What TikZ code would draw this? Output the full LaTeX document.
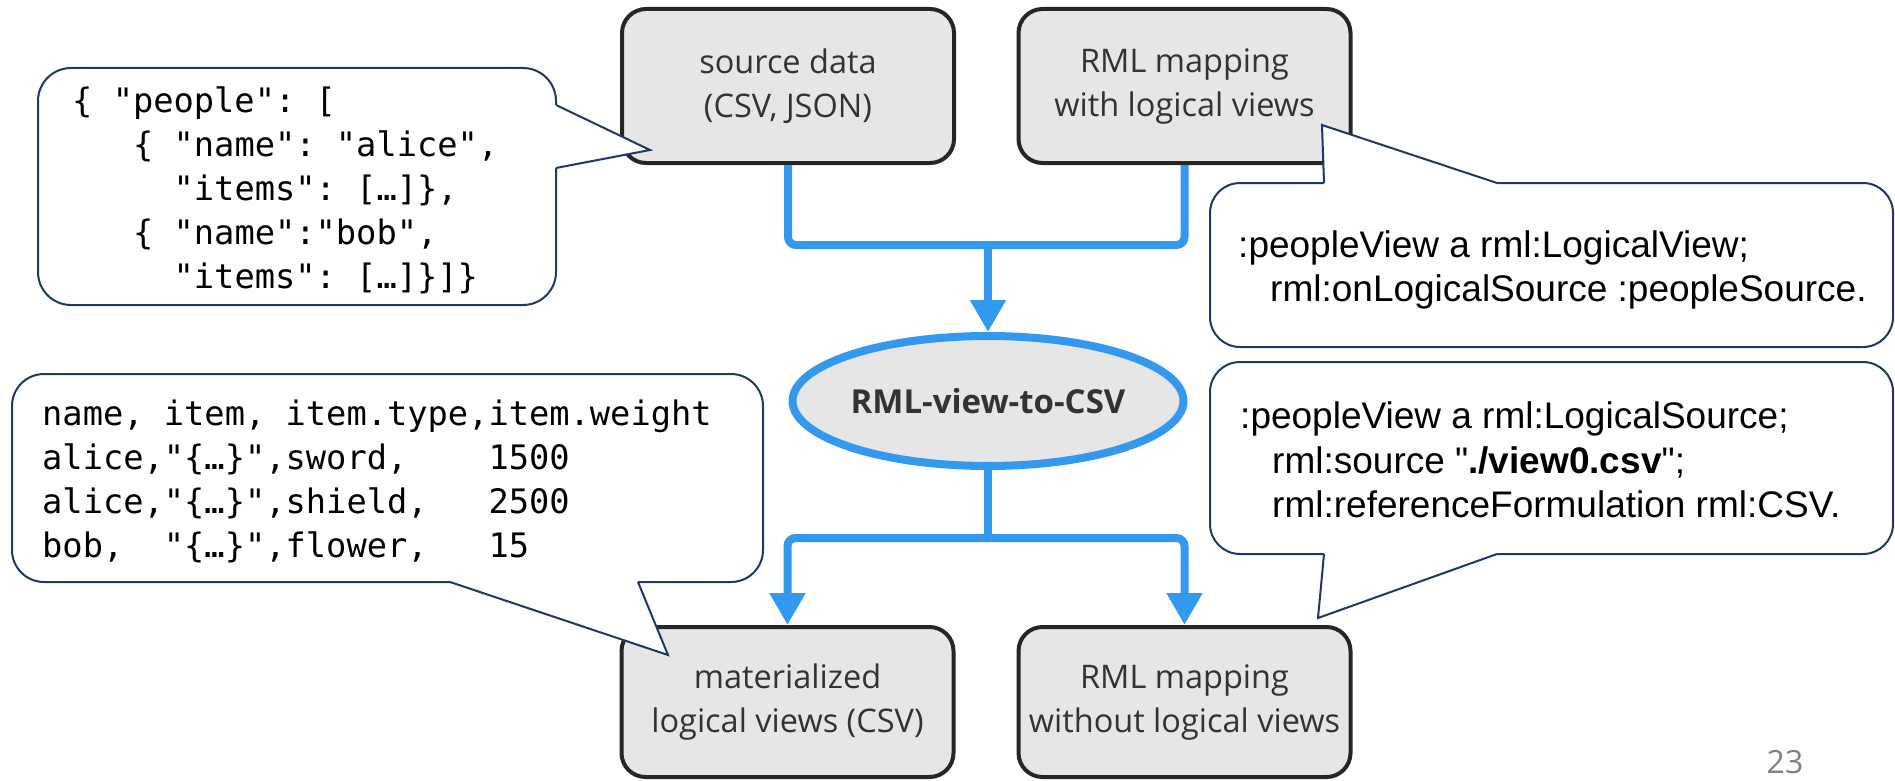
\documentclass[tikz,border=0pt]{standalone}
\usepackage{fontspec}
\usetikzlibrary{arrows.meta,shapes.geometric}
\newfontfamily\boxfont{Open Sans}
\newfontfamily\codefont[Ligatures=TeXOff]{DejaVu Sans Mono}
\newfontfamily\rdffont[Ligatures=TeXOff]{Liberation Sans}
\definecolor{flowblue}{HTML}{3399EE}
\definecolor{boxgray}{HTML}{E6E6E6}
\definecolor{boxedge}{HTML}{262626}
\definecolor{calledge}{HTML}{1F3864}
\definecolor{boxtext}{HTML}{333333}
\definecolor{pagegray}{HTML}{808080}
\begin{document}
\begin{tikzpicture}[x=1pt,y=-1pt,
  procbox/.style={draw=boxedge, line width=4pt, fill=boxgray, rounded corners=24pt,
    minimum width=332pt, minimum height=154pt, inner sep=0pt, align=center,
    text=boxtext, font=\boxfont\fontsize{32.5}{44}\selectfont},
  procell/.style={ellipse, draw=flowblue, line width=8pt, fill=boxgray,
    minimum width=391pt, minimum height=130pt, inner sep=0pt,
    text=boxtext, font=\boxfont\bfseries\fontsize{33}{40}\selectfont},
  flow/.style={draw=flowblue, line width=8pt, rounded corners=8pt},
  flowtip/.style={-{Triangle[width=34pt,length=32pt]}},
  callbox/.style={draw=calledge, line width=2pt, fill=white},
  cline/.style={draw=calledge, line width=2pt, line join=miter},
  codetext/.style={inner sep=0pt, align=left,
    font=\codefont\frenchspacing\fontsize{33.7}{44}\selectfont},
  rdftext/.style={inner sep=0pt, align=left,
    font=\rdffont\frenchspacing\fontsize{37}{44.5}\selectfont}]
\useasboundingbox (0,0) rectangle (1895,781);

% process boxes
\node[procbox] (src) at (788,86) {source data\\(CSV, JSON)};
\node[procbox] (rml) at (1184.5,86) {RML mapping\\with logical views};
\node[procbox, minimum height=150pt] (mat) at (787.5,702) {materialized\\logical views (CSV)};
\node[procbox, minimum height=150pt] (nolv) at (1184.5,702) {RML mapping\\without logical views};
\node[procell] (view) at (988,401) {RML-view-to-CSV};

% flows
\coordinate (j1) at (988,245);
\coordinate (j2) at (988,538);
\draw[flow] (src.south) |- (j1) -| (rml.south);
\draw[flow, flowtip] (j1) -- (view.north);
\draw[flow] (view.south) -- (j2);
\draw[flow, flowtip] (j2) -| (mat.north);
\draw[flow, flowtip] (j2) -| (nolv.north);

% JSON callout
\node[callbox, rounded corners=33pt, minimum width=518pt, minimum height=237pt] (jsonc) at (297,186.5) {};
\coordinate (jsontip) at (650,150);
\fill[white] (556,105) -- (jsontip) -- (556,168) -- (552,168) -- (552,105) -- cycle;
\draw[cline] (556,105) -- (jsontip) -- (556,168);
\node[codetext, anchor=west] (jsont) at (72,190) {%
\{ "people": [\\
~~~\{ "name": "alice",\\
~~~~~"items": […]\},\\
~~~\{ "name":"bob",\\
~~~~~"items": […]\}]\}};

% CSV callout
\node[callbox, rounded corners=32pt, minimum width=751pt, minimum height=208pt] (csvc) at (387.5,478) {};
\coordinate (csvtip) at (668,655);
\fill[white] (450,582) -- (csvtip) -- (638,582) -- (638,578) -- (450,578) -- cycle;
\draw[cline] (450,582) -- (csvtip) -- (638,582);
\node[codetext, anchor=west] (csvt) at (42,481) {%
name, item, item.type,item.weight\\
alice,"\{…\}",sword,~~~~1500\\
alice,"\{…\}",shield,~~~2500\\
bob,~~"\{…\}",flower,~~~15};

% logical view callout
\node[callbox, rounded corners=30pt, minimum width=683pt, minimum height=164pt] (lvc) at (1551.5,265) {};
\coordinate (lvtip) at (1322,125);
\fill[white] (1324,183) -- (lvtip) -- (1497,183) -- (1497,187) -- (1324,187) -- cycle;
\draw[cline] (1324,183) -- (lvtip) -- (1497,183);
\node[rdftext, anchor=west] (lvt) at (1238,270) {%
:peopleView a rml:LogicalView;\\
\hspace*{32pt}rml:onLogicalSource :peopleSource.};

% logical source callout
\node[callbox, rounded corners=30pt, minimum width=683pt, minimum height=192pt] (lsc) at (1551.5,458) {};
\coordinate (lstip) at (1318,618);
\fill[white] (1324,554) -- (lstip) -- (1497,554) -- (1497,550) -- (1324,550) -- cycle;
\draw[cline] (1324,554) -- (lstip) -- (1497,554);
\node[rdftext, anchor=west] (lst) at (1240,460) {%
:peopleView a rml:LogicalSource;\\
\hspace*{32pt}rml:source "\textbf{./view0.csv}";\\
\hspace*{32pt}rml:referenceFormulation rml:CSV.};

% page number
\node[inner sep=0pt, text=pagegray, font=\boxfont\fontsize{32}{36}\selectfont] (page) at (1785,762) {23};
\end{tikzpicture}
\end{document}
